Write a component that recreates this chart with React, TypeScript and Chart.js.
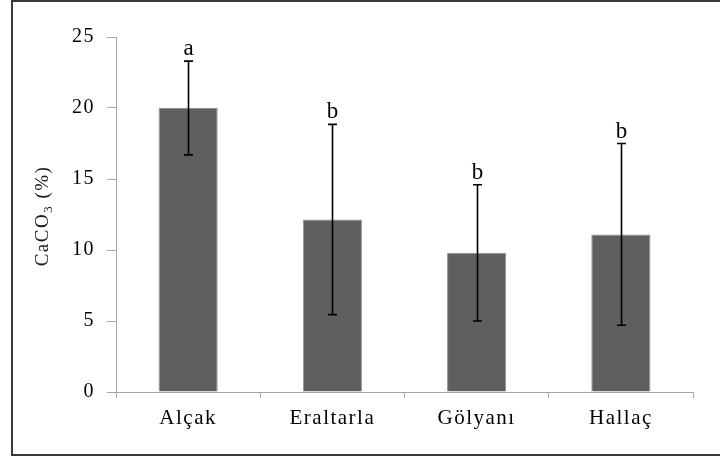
import React, { useEffect, useRef } from "react";
import { Chart, registerables } from "chart.js";

Chart.register(...registerables);

// Soil carbonate content per site: mean, standard deviation and group letter
const sites = ["Alçak", "Eraltarla", "Gölyanı", "Hallaç"];
const caco3Mean = [20.0, 12.15, 9.8, 11.1];
const caco3Sd = [3.3, 6.7, 4.8, 6.4];
const groupLetters = ["a", "b", "b", "b"];
const yTickValues = [0, 5, 10, 15, 20, 25];

const SERIF = '"Liberation Serif", "Times New Roman", serif';
const AXIS_GRAY = "#a6a6a6";
const BAR_FILL = "#5f5f5f";
const BAR_EDGE = "#8f8f8f";

// Outer frame around the figure (open on the right side)
const framePlugin = {
  id: "frame",
  beforeDraw(chart: any) {
    const ctx = chart.ctx;
    ctx.save();
    ctx.strokeStyle = "#3a3a3a";
    ctx.lineWidth = 2;
    ctx.beginPath();
    ctx.moveTo(740, 1);
    ctx.lineTo(12, 1);
    ctx.lineTo(12, 455);
    ctx.lineTo(740, 455);
    ctx.stroke();
    ctx.restore();
    ctx.letterSpacing = "1.5px";
  },
};

// Error bars (mean ± SD) with significance letters above them
const errorBarPlugin = {
  id: "errorBars",
  afterDatasetsDraw(chart: any) {
    const ctx = chart.ctx;
    const yScale = chart.scales.y;
    const meta = chart.getDatasetMeta(0);
    ctx.save();
    ctx.letterSpacing = "0px";
    ctx.strokeStyle = "#000";
    ctx.lineWidth = 1.6;
    meta.data.forEach((bar: any, i: number) => {
      const x = Math.round(bar.x) + 0.5;
      const top = yScale.getPixelForValue(caco3Mean[i] + caco3Sd[i]);
      const bottom = yScale.getPixelForValue(caco3Mean[i] - caco3Sd[i]);
      ctx.beginPath();
      ctx.moveTo(x, top);
      ctx.lineTo(x, bottom);
      ctx.moveTo(x - 4.5, top);
      ctx.lineTo(x + 4.5, top);
      ctx.moveTo(x - 4.5, bottom);
      ctx.lineTo(x + 4.5, bottom);
      ctx.stroke();
      ctx.fillStyle = "#000";
      ctx.font = `23px ${SERIF}`;
      ctx.textAlign = "center";
      ctx.textBaseline = "alphabetic";
      ctx.fillText(groupLetters[i], x, top - 6);
    });
    ctx.restore();
  },
};

// Rotated y-axis title with subscript
const yTitlePlugin = {
  id: "yTitle",
  afterDraw(chart: any) {
    const ctx = chart.ctx;
    ctx.save();
    ctx.letterSpacing = "1.5px";
    ctx.fillStyle = "#1a1a1a";
    ctx.textBaseline = "alphabetic";
    ctx.textAlign = "left";
    const big = `19px ${SERIF}`;
    const small = `13px ${SERIF}`;
    const parts = [
      { t: "CaCO", f: big, dy: 0 },
      { t: "3", f: small, dy: 4 },
      { t: " (%)", f: big, dy: 0 },
    ];
    let total = 0;
    parts.forEach((p) => {
      ctx.font = p.f;
      total += ctx.measureText(p.t).width;
    });
    ctx.translate(48, 216);
    ctx.rotate(-Math.PI / 2);
    let x = -total / 2;
    parts.forEach((p) => {
      ctx.font = p.f;
      ctx.fillText(p.t, x, p.dy);
      x += ctx.measureText(p.t).width;
    });
    ctx.restore();
  },
};

export default function App() {
  const canvasRef = useRef<HTMLCanvasElement | null>(null);

  useEffect(() => {
    document.body.style.margin = "0";
    const canvas = canvasRef.current;
    if (!canvas) return;
    const chart = new Chart(canvas, {
      type: "bar",
      data: {
        labels: sites,
        datasets: [
          {
            label: "CaCO3 (%)",
            data: caco3Mean,
            backgroundColor: BAR_FILL,
            borderColor: BAR_EDGE,
            borderWidth: 1,
            categoryPercentage: 1,
            barPercentage: 0.41,
          },
        ],
      },
      options: {
        responsive: false,
        animation: false,
        devicePixelRatio: 1,
        layout: { padding: { top: 37, right: 27, left: 0, bottom: 0 } },
        plugins: {
          legend: { display: false },
          tooltip: { enabled: false },
          title: { display: false },
        },
        scales: {
          x: {
            grid: {
              display: true,
              drawOnChartArea: false,
              drawTicks: true,
              tickLength: 6,
              color: AXIS_GRAY,
              offset: true,
            },
            border: { display: true, color: AXIS_GRAY, width: 1 },
            ticks: {
              color: "#000",
              font: { family: SERIF, size: 21 },
              padding: 8,
              maxRotation: 0,
            },
            afterFit: (s: any) => {
              s.height = 67;
            },
          },
          y: {
            min: 0,
            max: 25,
            afterBuildTicks: (s: any) => {
              s.ticks = yTickValues.map((v) => ({ value: v }));
            },
            ticks: {
              color: "#000",
              font: { family: SERIF, size: 20 },
              padding: 12,
            },
            grid: {
              drawOnChartArea: false,
              drawTicks: true,
              tickLength: 9,
              color: AXIS_GRAY,
            },
            border: { display: true, color: AXIS_GRAY, width: 1 },
            afterFit: (s: any) => {
              s.width = 116;
            },
          },
        },
      },
      plugins: [framePlugin, errorBarPlugin, yTitlePlugin],
    });
    return () => chart.destroy();
  }, []);

  return (
    <div style={{ position: "absolute", left: 0, top: 0, width: 720, height: 459, background: "#fff" }}>
      <canvas ref={canvasRef} width={720} height={459} style={{ width: 720, height: 459, display: "block" }} />
    </div>
  );
}
